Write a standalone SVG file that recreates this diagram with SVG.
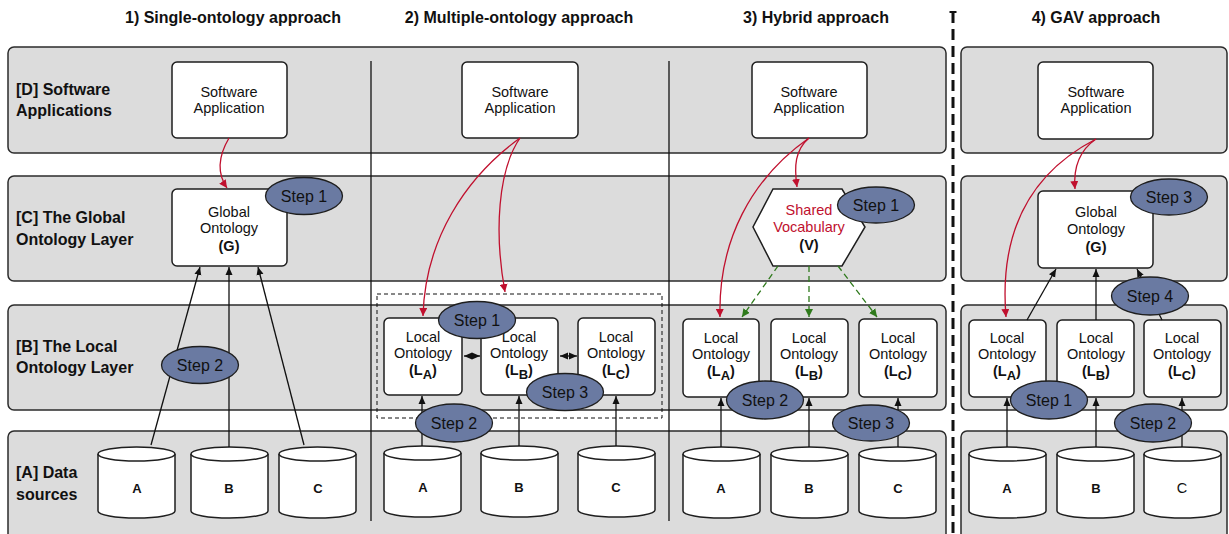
<svg xmlns="http://www.w3.org/2000/svg" width="1229" height="534" viewBox="0 0 1229 534">
<defs>
<style>
.band{fill:#dcdcdc;stroke:#2b2b2b;stroke-width:1.5}
.box{fill:#fff;stroke:#1e1e1e;stroke-width:1.5}
.step{fill:#6a7aa2;stroke:#1e1e1e;stroke-width:1.3}
.t{font-family:"Liberation Sans",Arial,sans-serif;font-size:14.5px;fill:#111;text-anchor:middle}
.b{font-weight:bold}
.hd{font-family:"Liberation Sans",Arial,sans-serif;font-size:16px;font-weight:bold;fill:#111;text-anchor:middle}
.lbl{font-family:"Liberation Sans",Arial,sans-serif;font-size:16px;font-weight:bold;fill:#111}
.st{font-family:"Liberation Sans",Arial,sans-serif;font-size:16px;fill:#111;text-anchor:middle}
.cyl{font-family:"Liberation Sans",Arial,sans-serif;font-size:13px;font-weight:bold;fill:#111;text-anchor:middle}
.red{fill:none;stroke:#c0102e;stroke-width:1.3;marker-end:url(#ar)}
.blk{fill:none;stroke:#111;stroke-width:1.3;marker-end:url(#ab)}
.grn{fill:none;stroke:#2f7a1c;stroke-width:1.3;stroke-dasharray:6 4;marker-end:url(#ag)}
.dbl{fill:none;stroke:#111;stroke-width:1.3;marker-start:url(#abs);marker-end:url(#ab)}
.div{stroke:#111;stroke-width:1.3}
</style>
<marker id="ar" markerUnits="userSpaceOnUse" markerWidth="9" markerHeight="8" refX="8" refY="4" orient="auto"><path d="M0,0 L8,4 L0,8 z" fill="#c0102e"/></marker>
<marker id="ab" markerUnits="userSpaceOnUse" markerWidth="9" markerHeight="8" refX="8" refY="4" orient="auto"><path d="M0,0.5 L8,4 L0,7.5 z" fill="#111"/></marker>
<marker id="abs" markerUnits="userSpaceOnUse" markerWidth="9" markerHeight="8" refX="0" refY="4" orient="auto"><path d="M8,0.5 L0,4 L8,7.5 z" fill="#111"/></marker>
<marker id="ag" markerUnits="userSpaceOnUse" markerWidth="9" markerHeight="8" refX="8" refY="4" orient="auto"><path d="M0,0 L8,4 L0,8 z" fill="#2f7a1c"/></marker>
<g id="cylA"><path d="M0,0 L0,57 A38.5,7 0 0 0 77,57 L77,0" fill="#fff" stroke="#1e1e1e" stroke-width="1.5"/><ellipse cx="38.5" cy="0" rx="38.5" ry="7" fill="#fff" stroke="#1e1e1e" stroke-width="1.5"/></g>
</defs>
<rect width="1229" height="534" fill="#fff"/>

<g id="headers">
<text class="hd" x="233" y="23">1) Single-ontology approach</text>
<text class="hd" x="519" y="23">2) Multiple-ontology approach</text>
<text class="hd" x="816" y="23">3) Hybrid approach</text>
<text class="hd" x="1096" y="23">4) GAV approach</text>
</g>

<g id="bands">
<rect class="band" x="8" y="47" width="938" height="106" rx="6"/>
<rect class="band" x="8" y="176" width="938" height="105" rx="6"/>
<rect class="band" x="8" y="305" width="938" height="105" rx="6"/>
<rect class="band" x="8" y="431" width="938" height="110" rx="6"/>
<rect class="band" x="961" y="47" width="266" height="106" rx="6"/>
<rect class="band" x="961" y="176" width="266" height="105" rx="6"/>
<rect class="band" x="961" y="305" width="266" height="105" rx="6"/>
<rect class="band" x="961" y="431" width="266" height="110" rx="6"/>
</g>

<g id="layer-labels">
<text class="lbl" x="16" y="95">[D] Software</text>
<text class="lbl" x="16" y="116">Applications</text>
<text class="lbl" x="16" y="223">[C] The Global</text>
<text class="lbl" x="16" y="245">Ontology Layer</text>
<text class="lbl" x="16" y="352">[B] The Local</text>
<text class="lbl" x="16" y="373">Ontology Layer</text>
<text class="lbl" x="16" y="478">[A] Data</text>
<text class="lbl" x="16" y="500">sources</text>
</g>

<g id="dividers">
<line class="div" x1="371" y1="61" x2="371" y2="521"/>
<line class="div" x1="669" y1="61" x2="669" y2="521"/>
<line x1="949.5" y1="12" x2="956.5" y2="12" stroke="#111" stroke-width="2"/>
<line x1="953" y1="12" x2="953" y2="534" stroke="#111" stroke-width="3" stroke-dasharray="11 6"/>
<rect x="377" y="294" width="285" height="124" fill="none" stroke="#111" stroke-width="1" stroke-dasharray="4 3"/>
</g>

<!-- Column 1 -->
<g id="c1-app"><rect class="box" x="172" y="62" width="115" height="76" rx="5"/><text class="t" x="229" y="97">Software</text><text class="t" x="229" y="113">Application</text></g>
<g id="c1-global"><rect class="box" x="172" y="189" width="115" height="77" rx="5"/><text class="t" x="229" y="217">Global</text><text class="t" x="229" y="233">Ontology</text><text class="t b" x="229" y="251">(G)</text></g>
<g id="c1-dsA"><use href="#cylA" x="98" y="454"/><text class="cyl" x="137" y="493">A</text></g>
<g id="c1-dsB"><use href="#cylA" x="191" y="454"/><text class="cyl" x="229" y="493">B</text></g>
<g id="c1-dsC"><use href="#cylA" x="279" y="454"/><text class="cyl" x="318" y="493">C</text></g>

<!-- Column 2 -->
<g id="c2-app"><rect class="box" x="462" y="62" width="116" height="76" rx="5"/><text class="t" x="520" y="97">Software</text><text class="t" x="520" y="113">Application</text></g>
<g id="c2-LA"><rect class="box" x="384" y="318" width="78" height="77" rx="5"/><text class="t" x="423" y="342">Local</text><text class="t" x="423" y="358">Ontology</text><text class="t b" x="423" y="375">(L<tspan font-size="13" dy="4">A</tspan><tspan dy="-4">)</tspan></text></g>
<g id="c2-LB"><rect class="box" x="481" y="318" width="77" height="77" rx="5"/><text class="t" x="519" y="342">Local</text><text class="t" x="519" y="358">Ontology</text><text class="t b" x="519" y="375">(L<tspan font-size="13" dy="4">B</tspan><tspan dy="-4">)</tspan></text></g>
<g id="c2-LC"><rect class="box" x="578" y="318" width="77" height="77" rx="5"/><text class="t" x="616" y="342">Local</text><text class="t" x="616" y="358">Ontology</text><text class="t b" x="616" y="375">(L<tspan font-size="13" dy="4">C</tspan><tspan dy="-4">)</tspan></text></g>
<g id="c2-dsA"><use href="#cylA" x="384" y="453"/><text class="cyl" x="423" y="492">A</text></g>
<g id="c2-dsB"><use href="#cylA" x="481" y="453"/><text class="cyl" x="519" y="492">B</text></g>
<g id="c2-dsC"><use href="#cylA" x="578" y="453"/><text class="cyl" x="616" y="492">C</text></g>

<!-- Column 3 -->
<g id="c3-app"><rect class="box" x="752" y="62" width="115" height="76" rx="5"/><text class="t" x="809" y="97">Software</text><text class="t" x="809" y="113">Application</text></g>
<g id="c3-vocab"><polygon class="box" points="773,189 842,189 865,227 842,266 773,266 753,227"/><text class="t" x="809" y="215" style="fill:#c0102e">Shared</text><text class="t" x="809" y="232" style="fill:#c0102e">Vocabulary</text><text class="t b" x="809" y="250">(V)</text></g>
<g id="c3-LA"><rect class="box" x="683" y="319" width="76" height="78" rx="5"/><text class="t" x="721" y="343">Local</text><text class="t" x="721" y="359">Ontology</text><text class="t b" x="721" y="376">(L<tspan font-size="13" dy="4">A</tspan><tspan dy="-4">)</tspan></text></g>
<g id="c3-LB"><rect class="box" x="771" y="319" width="77" height="78" rx="5"/><text class="t" x="809" y="343">Local</text><text class="t" x="809" y="359">Ontology</text><text class="t b" x="809" y="376">(L<tspan font-size="13" dy="4">B</tspan><tspan dy="-4">)</tspan></text></g>
<g id="c3-LC"><rect class="box" x="859" y="319" width="78" height="78" rx="5"/><text class="t" x="898" y="343">Local</text><text class="t" x="898" y="359">Ontology</text><text class="t b" x="898" y="376">(L<tspan font-size="13" dy="4">C</tspan><tspan dy="-4">)</tspan></text></g>
<g id="c3-dsA"><use href="#cylA" x="683" y="454"/><text class="cyl" x="721" y="493">A</text></g>
<g id="c3-dsB"><use href="#cylA" x="771" y="454"/><text class="cyl" x="809" y="493">B</text></g>
<g id="c3-dsC"><use href="#cylA" x="859" y="454"/><text class="cyl" x="898" y="493">C</text></g>

<!-- Column 4 -->
<g id="c4-app"><rect class="box" x="1038" y="62" width="115" height="77" rx="5"/><text class="t" x="1096" y="97">Software</text><text class="t" x="1096" y="113">Application</text></g>
<g id="c4-global"><rect class="box" x="1038" y="191" width="115" height="77" rx="5"/><text class="t" x="1096" y="217">Global</text><text class="t" x="1096" y="234">Ontology</text><text class="t b" x="1096" y="252">(G)</text></g>
<g id="c4-LA"><rect class="box" x="969" y="320" width="77" height="77" rx="5"/><text class="t" x="1007" y="343">Local</text><text class="t" x="1007" y="359">Ontology</text><text class="t b" x="1007" y="376">(L<tspan font-size="13" dy="4">A</tspan><tspan dy="-4">)</tspan></text></g>
<g id="c4-LB"><rect class="box" x="1057" y="320" width="77" height="77" rx="5"/><text class="t" x="1096" y="343">Local</text><text class="t" x="1096" y="359">Ontology</text><text class="t b" x="1096" y="376">(L<tspan font-size="13" dy="4">B</tspan><tspan dy="-4">)</tspan></text></g>
<g id="c4-LC"><rect class="box" x="1144" y="320" width="77" height="77" rx="5"/><text class="t" x="1182" y="343">Local</text><text class="t" x="1182" y="359">Ontology</text><text class="t b" x="1182" y="376">(L<tspan font-size="13" dy="4">C</tspan><tspan dy="-4">)</tspan></text></g>
<g id="c4-dsA"><use href="#cylA" x="969" y="454"/><text class="cyl" x="1007" y="493">A</text></g>
<g id="c4-dsB"><use href="#cylA" x="1057" y="454"/><text class="cyl" x="1096" y="493">B</text></g>
<g id="c4-dsC"><use href="#cylA" x="1144" y="454"/><text class="t" x="1182" y="493" font-size="13">C</text></g>

<g id="connectors">
<path class="red" d="M229,138 C219,155 216,172 227,188"/>
<path class="blk" d="M151,445 L200,267"/>
<path class="blk" d="M229,447 L229,267"/>
<path class="blk" d="M304,445 L258,267"/>

<path class="red" d="M520,138 C465,178 425,240 423,316"/>
<path class="red" d="M520,138 C498,170 494,232 505,292"/>
<path class="dbl" d="M464,356 L480,356"/>
<path class="dbl" d="M560,356 L577,356"/>
<path class="blk" d="M422,446 L422,396"/>
<path class="blk" d="M519,446 L519,396"/>
<path class="blk" d="M616,446 L616,396"/>

<path class="red" d="M809,138 C752,178 718,240 720,317"/>
<path class="red" d="M809,138 C795,150 794,166 797,187"/>
<path class="grn" d="M778,266 L742,317"/>
<path class="grn" d="M809,266 L809,317"/>
<path class="grn" d="M838,266 L877,317"/>
<path class="blk" d="M721,447 L721,398"/>
<path class="blk" d="M809,447 L809,398"/>
<path class="blk" d="M898,447 L898,398"/>

<path class="red" d="M1096,139 C1040,168 998,220 1006,317"/>
<path class="red" d="M1096,139 C1080,150 1073,166 1075,189"/>
<path class="blk" d="M1027,320 L1056,269"/>
<path class="blk" d="M1096,320 L1096,269"/>
<path class="blk" d="M1162,320 L1137,269"/>
<path class="blk" d="M1007,447 L1007,398"/>
<path class="blk" d="M1096,447 L1096,398"/>
<path class="blk" d="M1182,447 L1182,398"/>
</g>

<g id="c1-step1"><ellipse class="step" cx="304" cy="196" rx="38.5" ry="18.5"/><text class="st" x="304" y="202">Step 1</text></g>
<g id="c1-step2"><ellipse class="step" cx="200" cy="365" rx="38.5" ry="18.5"/><text class="st" x="200" y="371">Step 2</text></g>
<g id="c2-step1"><ellipse class="step" cx="477" cy="320" rx="38.5" ry="18.5"/><text class="st" x="477" y="326">Step 1</text></g>
<g id="c2-step3"><ellipse class="step" cx="565" cy="392" rx="38.5" ry="18.5"/><text class="st" x="565" y="398">Step 3</text></g>
<g id="c2-step2"><ellipse class="step" cx="454" cy="423" rx="38.5" ry="19"/><text class="st" x="454" y="429">Step 2</text></g>
<g id="c3-step1"><ellipse class="step" cx="876" cy="205" rx="38.5" ry="18"/><text class="st" x="876" y="211">Step 1</text></g>
<g id="c3-step2"><ellipse class="step" cx="765" cy="400" rx="38.5" ry="19"/><text class="st" x="765" y="406">Step 2</text></g>
<g id="c3-step3"><ellipse class="step" cx="871" cy="423" rx="38.5" ry="18"/><text class="st" x="871" y="429">Step 3</text></g>
<g id="c4-step3"><ellipse class="step" cx="1169" cy="197" rx="38.5" ry="18"/><text class="st" x="1169" y="203">Step 3</text></g>
<g id="c4-step4"><ellipse class="step" cx="1150" cy="296" rx="38.5" ry="19"/><text class="st" x="1150" y="302">Step 4</text></g>
<g id="c4-step1"><ellipse class="step" cx="1049" cy="400" rx="38.5" ry="19"/><text class="st" x="1049" y="406">Step 1</text></g>
<g id="c4-step2"><ellipse class="step" cx="1153" cy="423" rx="38.5" ry="19"/><text class="st" x="1153" y="429">Step 2</text></g>
</svg>
